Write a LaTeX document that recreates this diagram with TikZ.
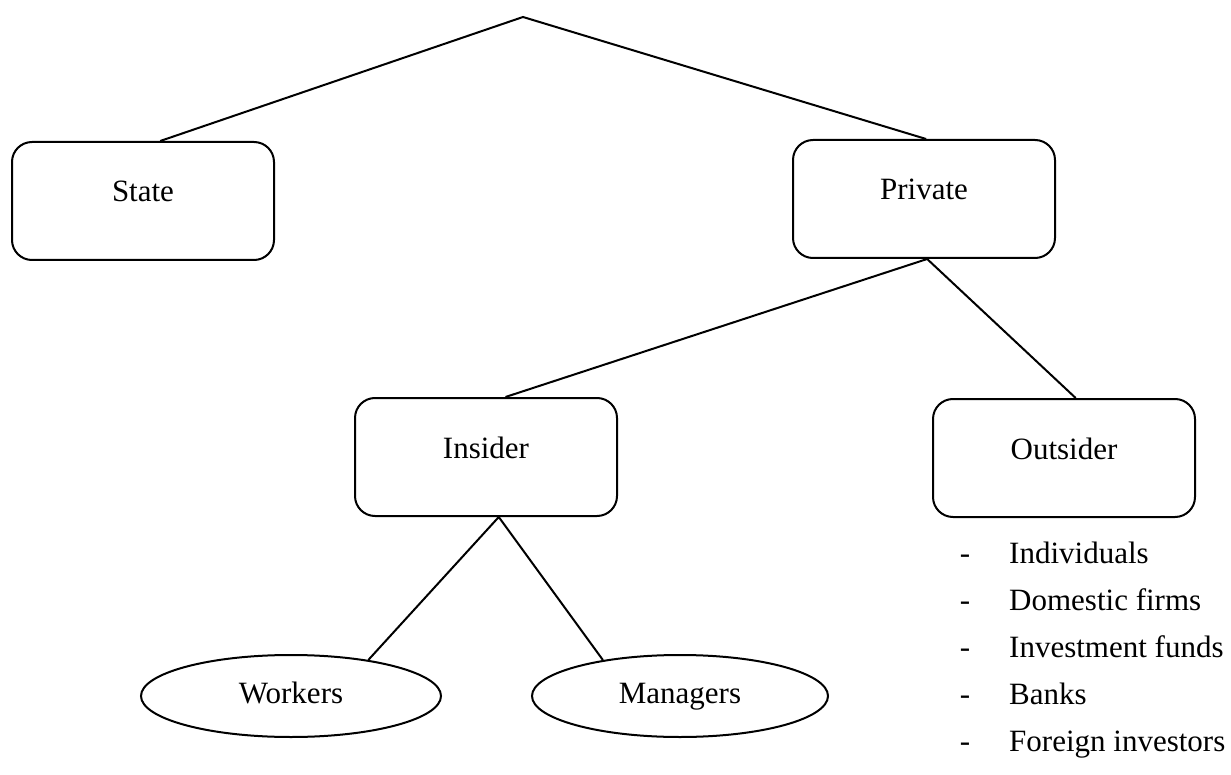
\documentclass[tikz,border=0pt]{standalone}
\usepackage{fontspec}
\setmainfont{Liberation Serif}
\usetikzlibrary{shapes.geometric}

\tikzset{
	box/.style={draw, line width=2pt, rounded corners=20pt, minimum width=262pt, minimum height=118pt, inner sep=0pt, text height=22pt, text depth=20pt},
	oval/.style={draw, ellipse, line width=2pt, minimum height=82pt, inner sep=0pt, text height=22pt, text depth=7pt},
	link/.style={line width=2pt}
}

\begin{document}
\begin{tikzpicture}[x=1pt, y=-1pt, font=\fontsize{31}{37}\selectfont]
		\useasboundingbox (0,0) rectangle (1231,775);
		\coordinate (top) at (523,17);
		\node[box] (state) at (143,201) {State};
		\node[box] (priv) at (924,199) {Private};
		\node[box] (ins) at (486,457) {Insider};
		\node[box] (out) at (1064,458) {Outsider};
		\node[oval, minimum width=300pt] (wrk) at (291,696) {Workers};
		\node[oval, minimum width=296pt] (mgr) at (680,696) {Managers};
		\draw[link] (state.74) -- (top) -- (priv.88);
		\draw[link] (ins.72) -- (priv.-87) -- (out.79);
		\draw[link] (wrk.25) -- (ins.-78) -- (mgr.155);
		% owners outside the firm
		\foreach \t [count=\i] in {Individuals, Domestic firms, Investment funds, Banks, Foreign investors} {
			\node[anchor=base] (dash\i) at (965,{563+47.2*(\i-1)}) {-};
			\node[anchor=base west, inner sep=0pt] (item\i) at (1009,{563+47.2*(\i-1)}) {\t};
		}
	\end{tikzpicture}
\end{document}
